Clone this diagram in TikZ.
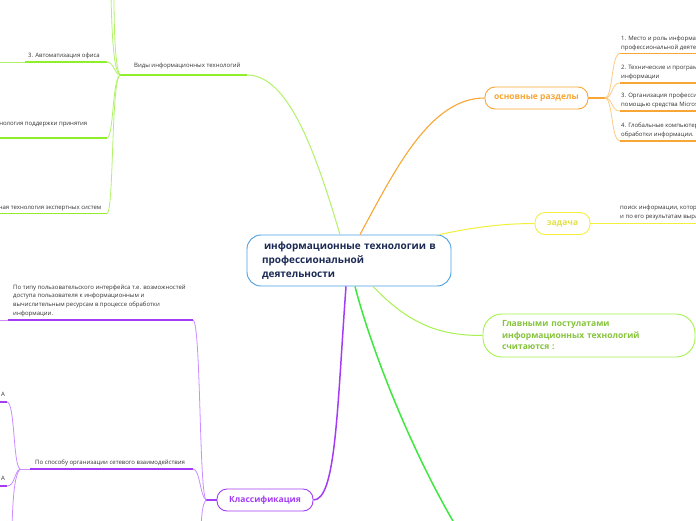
\documentclass[tikz,border=0pt]{standalone}
\usepackage{fontspec}
\setmainfont{Open Sans}
\definecolor{lg}{HTML}{B2F26A}
\definecolor{lgt}{HTML}{8EEF2A}
\definecolor{bgr}{HTML}{3EE83E}
\definecolor{pu}{HTML}{A43CF5}
\definecolor{pul}{HTML}{CB8DFF}
\definecolor{orn}{HTML}{F8A634}
\definecolor{orl}{HTML}{FCCB85}
\definecolor{ye}{HTML}{F2F03C}
\definecolor{yet}{HTML}{E4E04C}
\definecolor{bl}{HTML}{4A9FE0}
\definecolor{nv}{HTML}{1B2A55}
\definecolor{gt}{HTML}{86C43C}
\definecolor{gb}{HTML}{A6F24E}
\definecolor{tx}{HTML}{333333}
\tikzset{
  thinln/.style={line width=0.8pt},
  ulne/.style={line width=1.8pt},
  small/.style={font=\fontsize{6}{8.6}\selectfont, inner sep=0pt, align=left, text=tx},
  mainbox/.style={rectangle, rounded corners=10pt, line width=0.9pt, minimum height=22pt, inner sep=0pt, font=\fontsize{8.5}{10}\selectfont\bfseries},
}
\begin{document}
\begin{tikzpicture}[x=1pt,y=-1pt]
\useasboundingbox (0,0) rectangle (696,520);
\clip (0,0) rectangle (696,520);
\fill[white] (0,0) rectangle (696,520);

% central node
\node[rectangle, rounded corners=14pt, draw=bl, line width=0.9pt, text width=174pt, inner xsep=15pt, inner ysep=0pt, minimum height=51pt, align=left, text=nv, font=\fontsize{10}{14}\selectfont\bfseries] (c) at (349,260.5) {\hspace*{2pt}информационные технологии в\\профессиональной\\деятельности};

% main nodes
\node[mainbox, draw=orn, text=orn, minimum width=103pt] (osn) at (536.5,98) {основные разделы};
\node[mainbox, draw=ye, text=yet, minimum width=55pt] (zad) at (562.5,223.5) {задача};
\node[rectangle, rounded corners=19pt, draw=gb, line width=0.9pt, text width=174pt, inner xsep=19pt, inner ysep=0pt, minimum height=43pt, align=left, text=gt, font=\fontsize{8.5}{11.5}\selectfont\bfseries] (glav) at (589,335.5) {Главными постулатами\\информационных технологий\\считаются :};
\node[mainbox, draw=pu, text=pu, minimum width=96pt] (kl) at (265,500) {Классификация};

% coordinates
\coordinate (vR) at (247,75);
\coordinate (vL) at (120,75);
\coordinate (gEnd) at (460,533);
\coordinate (klB) at (206,500);

% ---- Виды branch (light green)
\draw[lg, line width=1pt] ([xshift=-9pt]c.north) .. controls (315,150) and (288,75) .. (vR);
\draw[lgt, ulne] (vL) -- (vR);
\node[small, anchor=base west] (vidy) at (134,67) {Виды информационных технологий};

\coordinate (a3) at (107,62);
\coordinate (a4) at (107,138);
\coordinate (a5) at (107,213.5);
\coordinate (aT1) at (111,-5);
\coordinate (aT2) at (114,-5);
\draw[lg, thinln] (vL) .. controls (114,72) and (112,40) .. (aT1);
\draw[lg, thinln] (vL) .. controls (116,70) and (114,40) .. (aT2);
\draw[lg, thinln] (vL) .. controls (114,74) and (114,62) .. (a3);
\draw[lg, thinln] (vL) .. controls (112,80) and (114,136) .. (a4);
\draw[lg, thinln] (vL) .. controls (111,80) and (114,212) .. (a5);

\draw[lgt, ulne] (25,62) -- (a3);
\draw[lg, thinln] (-2,62) -- (25,62);
\node[small, anchor=base west] (t3) at (28,57.5) {3. Автоматизация офиса};
\draw[lgt, ulne] (-2,138) -- (a4);
\node[small, anchor=base east] (t4) at (87.5,125.5) {технология поддержки принятия};
\draw[lgt, ulne] (-2,213.5) -- (a5);
\node[small, anchor=base east] (t5) at (101.5,209.5) {Информационная технология экспертных систем};

% ---- orange branch
\draw[orn, line width=1.1pt] ([xshift=11pt]c.north) .. controls (395,170) and (430,98) .. (osn.west);
\coordinate (oJ) at (605,98);
\draw[orn, line width=1.1pt] (osn.east) -- (oJ);
\coordinate (o1) at (620,53.5);
\coordinate (o2) at (620,83);
\coordinate (o3) at (620,111);
\coordinate (o4) at (620,141);
\foreach \p in {o1,o2,o3,o4}{
  \draw[orl, thinln] (oJ) .. controls (613,98) and (611,0|-\p) .. (\p);
  \draw[orn, ulne] (\p) -- ++(90,0);
}
\node[small, anchor=base west] (ot1) at (621,49) {1. Место и роль информационных\\профессиональной деятельности};
\node[small, anchor=base west] (ot2) at (621,78) {2. Технические и программные\\информации};
\node[small, anchor=base west] (ot3) at (621,106) {3. Организация профессиональной\\помощью средства Microsoft};
\node[small, anchor=base west] (ot4) at (621,136) {4. Глобальные компьютерные\\обработки информации.};

% ---- yellow branch
\draw[ye, line width=1pt] ([xshift=-12pt]c.north east) .. controls (470,228) and (500,223.5) .. (zad.west);
\coordinate (yU) at (616,223.5);
\draw[ye, thinln] (zad.east) -- (yU);
\draw[ye, ulne] (yU) -- ++(90,0);
\node[small, anchor=base west] (yt) at (620,218.5) {поиск информации, которая\\и по его результатам выработка};

% ---- light green to Главными
\draw[gb, line width=1pt] ([xshift=24pt]c.south) .. controls (410,325) and (440,335.5) .. (glav.west);

% ---- bright green
\draw[bgr, line width=1.5pt] ([xshift=6pt]c.south) .. controls (370,345) and (410,450) .. (gEnd);

% ---- purple
\draw[pu, line width=1.5pt] ([xshift=-3pt]c.south) .. controls (337,410) and (336,500) .. (kl.east);
\draw[pu, line width=1.3pt] (kl.west) -- (klB);
\coordinate (p1) at (193,320);
\coordinate (p2) at (193,469);
\coordinate (pD) at (201,525);
\draw[pul, thinln] (klB) .. controls (199,492) and (201,322) .. (p1);
\draw[pul, thinln] (klB) .. controls (200,496) and (200,469) .. (p2);
\draw[pul, thinln] (klB) .. controls (202,505) and (202,515) .. (pD);
\draw[pu, ulne] (8,320) -- (p1);
\draw[pul, thinln] (-2,320) -- (8,320);
\node[small, anchor=base west] (pt1) at (13,315) {По типу пользовательского интерфейса т.е. возможностей\\доступа пользователя к информационным и\\вычислительным ресурсам в процессе обработки\\информации.};
\coordinate (q0) at (20,469);
\draw[pu, ulne] (30,469) -- (p2);
\draw[pul, thinln] (q0) -- (30,469);
\node[small, anchor=base west] (pt2) at (35,464) {По способу организации сетевого взаимодействия};
\coordinate (q1) at (7,402);
\coordinate (q2) at (7,486);
\coordinate (qD) at (12,525);
\draw[pul, thinln] (q0) .. controls (13,465) and (15,402) .. (q1);
\draw[pul, thinln] (q0) .. controls (14,472) and (15,486) .. (q2);
\draw[pul, thinln] (q0) .. controls (14,476) and (13,500) .. (qD);
\draw[pu, ulne] (-2,402) -- (q1);
\draw[pu, ulne] (-2,486) -- (q2);
\node[small, anchor=base east] (qa1) at (5,396) {А};
\node[small, anchor=base east] (qa2) at (5,480) {А};
\end{tikzpicture}
\end{document}
